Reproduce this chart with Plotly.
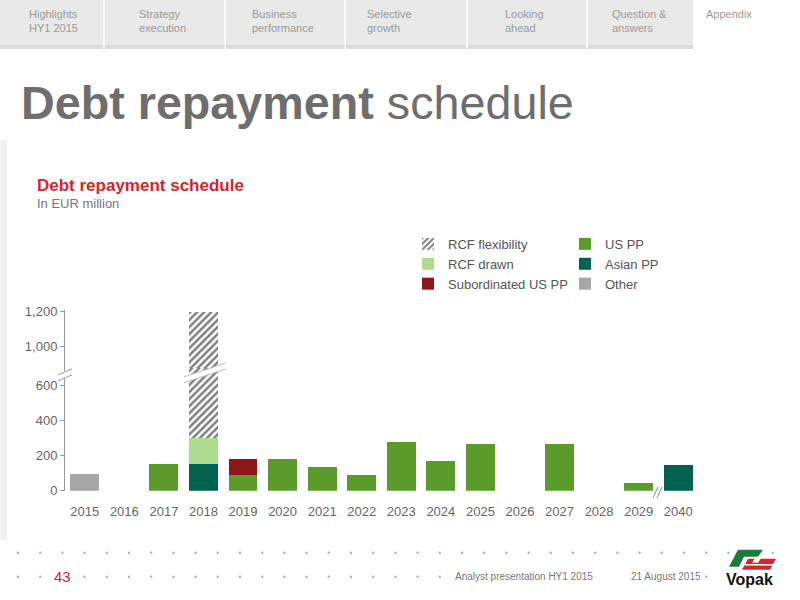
from plotly import graph_objects as go

W, H = 800, 600

years = ["2015", "2016", "2017", "2018", "2019", "2020", "2021", "2022",
         "2023", "2024", "2025", "2026", "2027", "2028", "2029", "2040"]

# EUR million
other = [95, 0, 0, 0, 0, 0, 0, 0, 0, 0, 0, 0, 0, 0, 0, 0]
us_pp = [0, 0, 155, 0, 90, 182, 135, 88, 278, 168, 268, 0, 268, 0, 45, 0]
asian_pp = [0, 0, 0, 150, 0, 0, 0, 0, 0, 0, 0, 0, 0, 0, 0, 145]
sub_us_pp = [0, 0, 0, 0, 92, 0, 0, 0, 0, 0, 0, 0, 0, 0, 0, 0]
rcf_drawn = [0, 0, 0, 150, 0, 0, 0, 0, 0, 0, 0, 0, 0, 0, 0, 0]
rcf_flex = [0, 0, 0, 900, 0, 0, 0, 0, 0, 0, 0, 0, 0, 0, 0, 0]

nav_labels = ["Highlights<br>HY1 2015", "Strategy<br>execution", "Business<br>performance",
              "Selective<br>growth", "Looking<br>ahead", "Question &<br>answers", "Appendix"]

FONT = "Liberation Sans, Arial, sans-serif"
GREY_TXT = "#666666"


def Y(y):
    # screen y -> page y (the photo comes out slightly squeezed vertically)
    return (y - 6) / 0.977


def px(x, y):
    return x / W, 1 - Y(y) / H


def path(points):
    parts = []
    for i, (x, y) in enumerate(points):
        a, b = px(x, y)
        parts.append(("M" if i == 0 else "L") + f"{a:.5f},{b:.5f}")
    return " ".join(parts) + " Z"


def rect(x0, y0, x1, y1, color):
    a0, b0 = px(x0, y0)
    a1, b1 = px(x1, y1)
    return dict(type="rect", xref="paper", yref="paper", x0=a0, y0=b0, x1=a1, y1=b1,
                fillcolor=color, line=dict(width=0), layer="below")


def seg(x0, y0, x1, y1, color="#bbbbbb", width=1):
    a0, b0 = px(x0, y0)
    a1, b1 = px(x1, y1)
    return dict(type="line", xref="paper", yref="paper", x0=a0, y0=b0, x1=a1, y1=b1,
                line=dict(color=color, width=width))


def text(x, y, s, size, color, xanchor="left", yanchor="middle", family=FONT):
    a, b = px(x, y)
    return dict(x=a, y=b, xref="paper", yref="paper", text=s, showarrow=False,
                xanchor=xanchor, yanchor=yanchor, align="left",
                font=dict(size=size, color=color, family=family))


def main() -> None:
    fig = go.Figure()

    series = [
        ("Other", other, "#a6a6a6", "legend2", 3, None),
        ("US PP", us_pp, "#5a9b2b", "legend2", 1, None),
        ("Asian PP", asian_pp, "#00624f", "legend2", 2, None),
        ("Subordinated US PP", sub_us_pp, "#8c1618", "legend", 3, None),
        ("RCF drawn", rcf_drawn, "#addc8c", "legend", 2, None),
        ("RCF flexibility", rcf_flex, "white", "legend", 1,
         dict(shape="/", fgcolor="#000000", bgcolor="white", size=5, solidity=0.5)),
    ]
    for name, vals, color, leg, rank, pattern in series:
        for yax in ("y", "y2"):
            fig.add_trace(
                go.Bar(
                    x=years,
                    y=vals,
                    name=name,
                    xaxis="x",
                    yaxis=yax,
                    marker=dict(color=color, line=dict(width=0), pattern=pattern),
                    legend=leg,
                    legendrank=rank,
                    showlegend=(yax == "y"),
                    hoverinfo="skip",
                )
            )

    shapes = []
    # top navigation tabs
    shapes.append(rect(0, -10, 693, 49, "#e9e9e9"))
    shapes.append(rect(0, 45, 693, 49, "#dcdcdc"))
    for sx in [104, 225, 345, 467, 587]:
        shapes.append(rect(sx - 0.7, -10, sx + 0.7, 49, "white"))
    # faint left strip
    shapes.append(rect(0, 140, 7, 540, "#f1f1f1"))

    # y axis break
    shapes.append(dict(type="path", xref="paper", yref="paper",
                       path=path([(58, 381), (72, 375), (72, 368), (58, 374)]),
                       fillcolor="white", line=dict(width=0)))
    shapes.append(seg(58, 381, 72, 375, "#999999"))
    shapes.append(seg(58, 375, 72, 369, "#999999"))
    # bar break on 2018
    shapes.append(dict(type="path", xref="paper", yref="paper",
                       path=path([(184, 383), (226, 369), (226, 363), (184, 377)]),
                       fillcolor="white", line=dict(width=0)))
    shapes.append(seg(184, 383, 226, 369))
    shapes.append(seg(184, 377, 226, 363))
    # x axis break between 2029 and 2040
    shapes.append(seg(653, 498, 658, 487, "#888888"))
    shapes.append(seg(657, 498, 662, 487, "#888888"))

    # footer dots
    for k in range(36):
        dx = 18 + 22.2 * k
        if dx > 790:
            break
        for dy in (553, 577):
            if dy == 577 and (45 < dx < 75 or 440 < dx < 600 or 615 < dx < 705 or 715 < dx < 778):
                continue
            a0, b0 = px(dx - 1.2, dy - 1.2)
            a1, b1 = px(dx + 1.2, dy + 1.2)
            shapes.append(dict(type="circle", xref="paper", yref="paper",
                               x0=a0, y0=b0, x1=a1, y1=b1,
                               fillcolor="#b0b0b0", line=dict(width=0)))
    # Vopak flag
    shapes.append(dict(type="path", xref="paper", yref="paper",
                       path=path([(729, 567), (738, 550), (763, 550), (758, 557), (744, 557), (739, 567)]),
                       fillcolor="#1e7a3c", line=dict(width=0)))
    shapes.append(dict(type="path", xref="paper", yref="paper",
                       path=path([(742, 570), (748, 559), (776, 559), (770, 570)]),
                       fillcolor="#d6252e", line=dict(width=0)))
    shapes.append(seg(745, 565, 773, 565, "white", 1.5))
    shapes.append(dict(type="path", xref="paper", yref="paper",
                       path=path([(752, 563), (756, 557), (762, 557), (758, 563)]),
                       fillcolor="white", line=dict(width=0)))

    annotations = []
    nav_x = [27, 137, 250, 365, 503, 610, 704]
    for nx, label in zip(nav_x, nav_labels):
        annotations.append(text(nx, 6, label, 11, "#9a9a9a", yanchor="top"))
    annotations.append(text(19, 103, "<b>Debt repayment</b> schedule", 46.7, "#6e6e6e"))
    annotations.append(text(35, 186, "<b>Debt repayment schedule</b>", 17, "#d4252d"))
    annotations.append(text(35, 204, "In EUR million", 13, "#777777"))
    annotations.append(text(52, 577, "43", 15, "#d4252d"))
    annotations.append(text(453, 577, "Analyst presentation HY1 2015", 10, "#777777"))
    annotations.append(text(629, 577, "21 August 2015", 10, "#777777"))
    annotations.append(text(749, 580, "<b>Vopak</b>", 16, "#111111", xanchor="center"))

    axis_font = dict(size=13, color=GREY_TXT, family=FONT)
    yax_common = dict(
        tickformat=",",
        ticks="outside",
        ticklen=4,
        tickcolor="#999999",
        showline=True,
        linecolor="#999999",
        showgrid=False,
        zeroline=False,
        tickfont=axis_font,
        anchor="x",
    )
    leg_common = dict(
        xanchor="left",
        yanchor="top",
        traceorder="normal",
        font=dict(size=13, color="#555555", family=FONT),
        bgcolor="rgba(0,0,0,0)",
    )
    fig.update_layout(
        width=W,
        height=H,
        margin=dict(l=0, r=0, t=0, b=0),
        paper_bgcolor="white",
        plot_bgcolor="rgba(0,0,0,0)",
        barmode="stack",
        bargap=0.27,
        font=dict(family=FONT, color=GREY_TXT),
        xaxis=dict(
            domain=[65 / W, 698 / W],
            type="category",
            range=[-0.5, 15.5],
            showline=False,
            showgrid=False,
            zeroline=False,
            ticks="",
            ticklabelstandoff=11,
            tickfont=axis_font,
            anchor="y",
        ),
        yaxis=dict(domain=[1 - Y(491) / H, 1 - Y(368) / H], range=[0, 700],
                   tickvals=[0, 200, 400, 600], **yax_common),
        yaxis2=dict(domain=[1 - Y(368) / H, 1 - Y(310) / H], range=[880, 1210],
                    tickvals=[1000, 1200], **yax_common),
        legend=dict(x=408 / W, y=1 - Y(229) / H, **leg_common),
        legend2=dict(x=565 / W, y=1 - Y(229) / H, **leg_common),
        shapes=shapes,
        annotations=annotations,
    )

    fig.write_html(
        "out.html",
        config={"displayModeBar": False},
        post_script=(
            "document.body.style.margin='0';document.body.style.overflow='hidden';"
            "var d=document.getElementById('{plot_id}');"
            "d.style.position='fixed';d.style.top='0';d.style.left='0';"
        ),
    )


if __name__ == "__main__":
    main()
